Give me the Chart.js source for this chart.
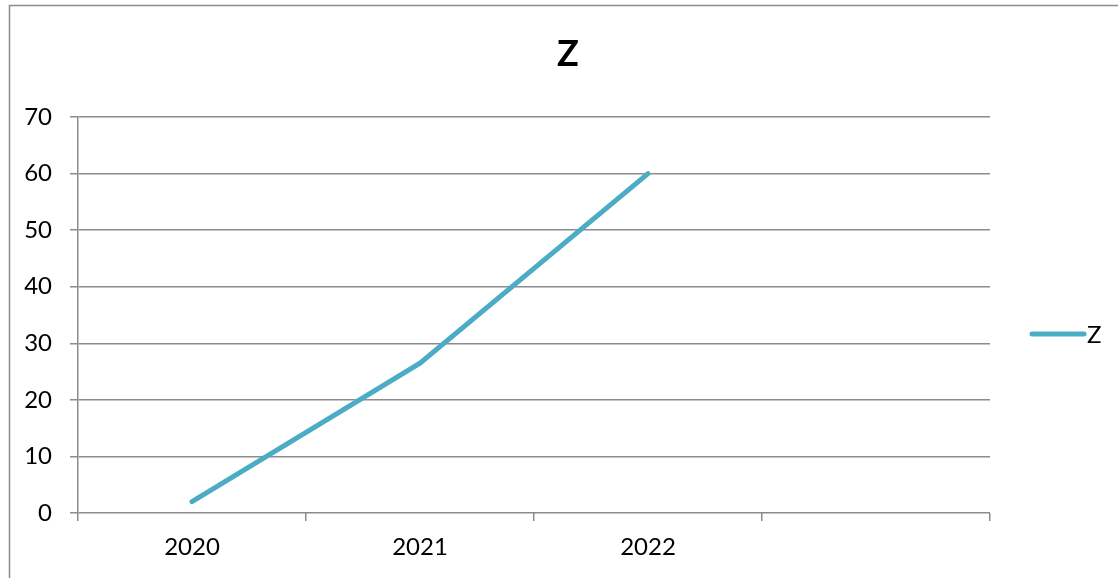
<!DOCTYPE html>
<html>
<head>
<meta charset="utf-8">
<script src="https://cdn.jsdelivr.net/npm/chart.js@4/dist/chart.umd.min.js"></script>
<style>
  html, body { margin: 0; padding: 0; background: #fff; }
  #wrap { width: 1118px; height: 578px; }
</style>
</head>
<body>
<div id="wrap"><canvas id="zChart" width="1118" height="578"></canvas></div>
<script>
// Data for chart
const categories = ['2020', '2021', '2022', ''];
const zValues = [2, 26.5, 60, null];
const yTicks = [0, 10, 20, 30, 40, 50, 60, 70];
const seriesName = 'Z';

const lineColor = '#4BACC6';
const gridColor = '#8c8c8c';
const fontFamily = 'Lato, "Open Sans", sans-serif';

// Outer frame and right-hand legend
const framePlugin = {
    id: 'frame',
    afterDraw(chart) {
        const ctx = chart.ctx;
        ctx.save();
        ctx.strokeStyle = gridColor;
        ctx.lineWidth = 1.5;
        ctx.beginPath();
        ctx.moveTo(9.5, 578);
        ctx.lineTo(9.5, 5.5);
        ctx.lineTo(1118, 5.5);
        ctx.stroke();

        const ds = chart.data.datasets[0];
        ctx.strokeStyle = ds.borderColor;
        ctx.lineWidth = 5;
        ctx.lineCap = 'round';
        ctx.beginPath();
        ctx.moveTo(1032, 334);
        ctx.lineTo(1084, 334);
        ctx.stroke();

        ctx.fillStyle = '#000';
        ctx.font = '24px ' + fontFamily;
        ctx.textBaseline = 'middle';
        ctx.textAlign = 'left';
        ctx.fillText(ds.label, 1087, 335);
        ctx.restore();
    }
};

new Chart(document.getElementById('zChart'), {
    type: 'line',
    data: {
        labels: categories,
        datasets: [{
            label: seriesName,
            data: zValues,
            borderColor: lineColor,
            backgroundColor: lineColor,
            borderWidth: 5,
            borderCapStyle: 'round',
            pointRadius: 0,
            tension: 0
        }]
    },
    options: {
        responsive: false,
        animation: false,
        layout: { padding: { left: 18, right: 0, top: 0, bottom: 0 } },
        scales: {
            x: {
                offset: true,
                grid: {
                    offset: true,
                    drawOnChartArea: false,
                    drawTicks: true,
                    tickLength: 8,
                    color: gridColor,
                    lineWidth: 1.5
                },
                border: { display: false },
                ticks: { color: '#000', font: { family: fontFamily, size: 24 }, padding: 12, maxRotation: 0 },
                afterFit(scale) { scale.height = 65; }
            },
            y: {
                min: 0,
                max: 70,
                afterBuildTicks(scale) { scale.ticks = yTicks.map(v => ({ value: v })); },
                grid: { color: gridColor, lineWidth: 1.5, tickLength: 8 },
                border: { color: gridColor, width: 1.5 },
                ticks: { color: '#000', font: { family: fontFamily, size: 24 }, padding: 18 },
                afterFit(scale) { scale.width = 60; }
            },
            // empty right-hand axis that reserves the legend column
            legendSpace: {
                type: 'linear',
                position: 'right',
                grid: { display: false },
                border: { display: false },
                ticks: { display: false },
                afterFit(scale) { scale.width = 128; }
            }
        },
        plugins: {
            legend: { display: false },
            tooltip: { enabled: false },
            title: {
                display: true,
                text: seriesName,
                color: '#000',
                font: { family: fontFamily, size: 36, weight: 'bold', lineHeight: 1.2 },
                padding: { top: 33, bottom: 40.8 }
            }
        }
    },
    plugins: [framePlugin]
});
</script>
</body>
</html>
